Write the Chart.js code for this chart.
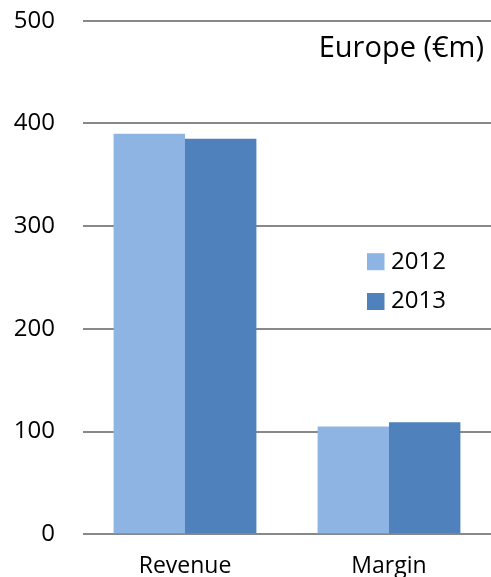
<!DOCTYPE html>
<html>
<head>
<meta charset="utf-8">
<script src="https://cdn.jsdelivr.net/npm/chart.js@4/dist/chart.umd.min.js"></script>
<style>
  html, body { margin: 0; padding: 0; background: #fff; overflow: hidden; }
  #wrap { position: relative; width: 491px; height: 600px; }
</style>
</head>
<body>
<div id="wrap"><canvas id="c"></canvas></div>
<script>
// Europe revenue and margin, € millions
const categories = ['Revenue', 'Margin'];
const seriesNames = ['2012', '2013'];
const values2012 = [390, 105];
const values2013 = [385, 109];
const yTicks = [0, 100, 200, 300, 400, 500];
const chartTitle = 'Europe (€m)';

const colors = ['#8EB4E3', '#4F81BD'];
const FONT = "'Open Sans', sans-serif";
const CANVAS_H = 600;
const PLOT_LEFT = 83;
const PLOT_TOP = 20.7;
const PLOT_BOTTOM = 534.3;

// Title and legend are drawn inside the plot area
const overlay = {
  id: 'overlay',
  afterDraw(chart) {
    const ctx = chart.ctx;
    ctx.save();
    ctx.fillStyle = '#000';
    ctx.font = '29px ' + FONT;
    ctx.textAlign = 'right';
    ctx.textBaseline = 'alphabetic';
    ctx.fillText(chartTitle, 484, 57);

    ctx.font = '24px ' + FONT;
    ctx.textAlign = 'left';
    ctx.textBaseline = 'middle';
    chart.data.datasets.forEach((ds, i) => {
      const cy = 261.7 + i * 39.8;
      ctx.fillStyle = ds.backgroundColor;
      ctx.fillRect(367, cy - 8.5, 17.5, 17);
      ctx.fillStyle = '#000';
      ctx.fillText(ds.label, 391, cy);
    });
    ctx.restore();
  }
};

new Chart(document.getElementById('c'), {
  type: 'bar',
  data: {
    labels: categories,
    datasets: [
      { label: seriesNames[0], data: values2012, backgroundColor: colors[0] },
      { label: seriesNames[1], data: values2013, backgroundColor: colors[1] }
    ]
  },
  options: {
    responsive: true,
    maintainAspectRatio: false,
    animation: false,
    events: [],
    layout: { padding: { top: PLOT_TOP, left: 0, right: 0, bottom: 0 } },
    datasets: { bar: { categoryPercentage: 0.7, barPercentage: 1.0, borderWidth: 0 } },
    plugins: { legend: { display: false }, title: { display: false }, tooltip: { enabled: false } },
    scales: {
      x: {
        grid: { display: false, drawTicks: false },
        border: { display: false },
        ticks: { color: '#000', font: { family: FONT, size: 23 }, padding: 18 },
        afterFit(scale) { scale.height = CANVAS_H - PLOT_BOTTOM; }
      },
      y: {
        min: 0,
        max: 500,
        afterBuildTicks(scale) { scale.ticks = yTicks.map(v => ({ value: v })); },
        grid: { color: '#888888', lineWidth: 2, drawTicks: false },
        border: { display: false },
        ticks: { color: '#000', font: { family: FONT, size: 24 }, padding: 28 },
        afterFit(scale) {
          scale.width = PLOT_LEFT;
          scale.paddingTop = 0;
          scale.paddingBottom = 0;
        }
      }
    }
  },
  plugins: [overlay]
});
</script>
</body>
</html>
